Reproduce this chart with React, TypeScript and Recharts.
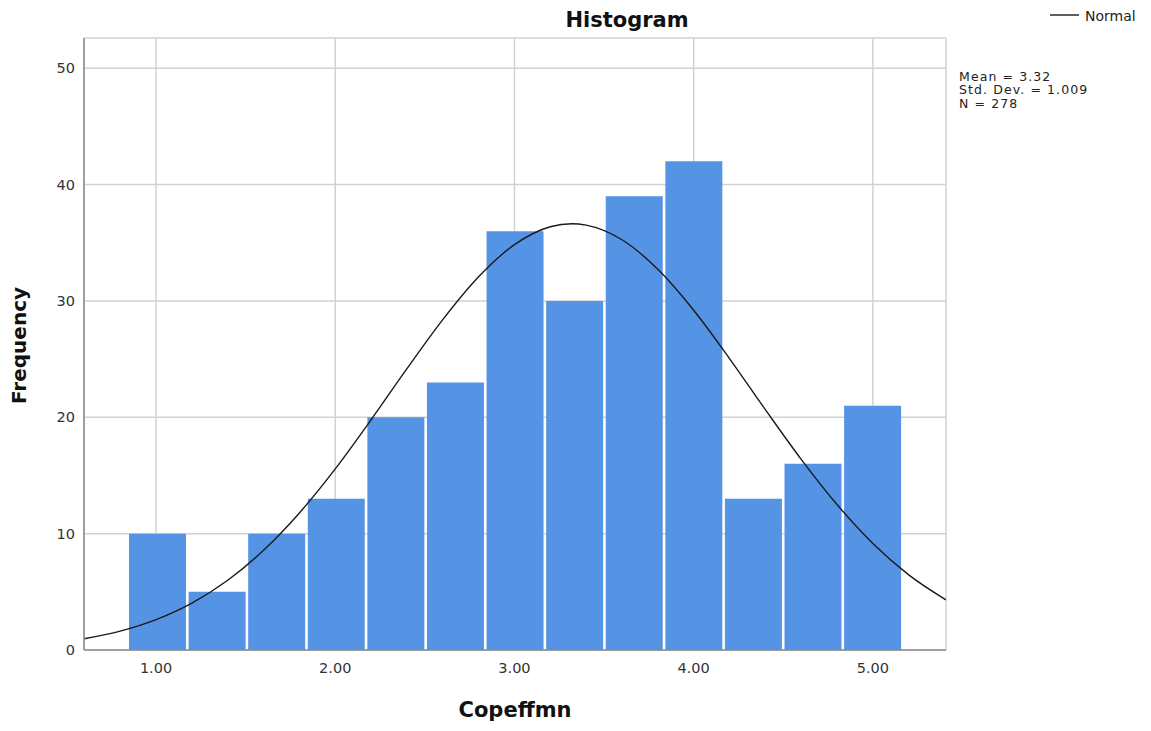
import React from "react";
import { ComposedChart, Bar, Line, XAxis, YAxis, CartesianGrid } from "recharts";

// Histogram bins (centres) and frequencies
const binCenters = [1.0, 1.3333, 1.6667, 2.0, 2.3333, 2.6667, 3.0, 3.3333, 3.6667, 4.0, 4.3333, 4.6667, 5.0];
const frequencies = [10, 5, 10, 13, 20, 23, 36, 30, 39, 42, 13, 16, 21];

// Normal curve points (as plotted)
const curveX = [0.598, 0.8, 1.0, 1.2, 1.4, 1.6, 1.8, 2.0, 2.2, 2.4, 2.6, 2.8, 3.0, 3.2, 3.32, 3.4, 3.6, 3.8, 4.0, 4.2, 4.4, 4.6, 4.8, 5.0, 5.2, 5.408];
const curveY = [0.96, 1.62, 2.61, 4.03, 5.99, 8.57, 11.78, 15.57, 19.79, 24.18, 28.4, 32.08, 34.84, 36.38, 36.64, 36.52, 35.26, 32.72, 29.2, 25.05, 20.66, 16.39, 12.5, 9.16, 6.46, 4.31];

const xTicks = [1, 2, 3, 4, 5];
const yTicks = [0, 10, 20, 30, 40, 50];
const statsLines = ["Mean = 3.32", "Std. Dev. = 1.009", "N = 278"];

const barData = binCenters.map((x, i) => ({ x, count: frequencies[i] }));
const curveData = curveX.map((x, i) => ({ x, norm: curveY[i] }));

const W = 1143;
const H = 723;
const FONT = "'DejaVu Sans', sans-serif";

export default function App() {
  return (
    <div style={{ position: "relative", width: W, height: H }}>
      <ComposedChart
        width={W}
        height={H}
        data={barData}
        margin={{ top: 30, right: 205, left: 16, bottom: 0 }}
        barCategoryGap={2}
      >
        <CartesianGrid stroke="#d2d2d2" strokeWidth={1.5} />
        <XAxis
          dataKey="x"
          type="number"
          domain={[0.598, 5.408]}
          ticks={xTicks}
          tickFormatter={(v: number) => v.toFixed(2)}
          tickLine={false}
          tickMargin={7}
          height={81}
          axisLine={{ stroke: "#8a8a8a", strokeWidth: 1.5 }}
          tick={{ fill: "#333", fontSize: 14.5, fontFamily: FONT }}
          allowDataOverflow
        />
        <XAxis
          xAxisId="bins"
          dataKey="x"
          type="category"
          hide
          padding={{ left: 44, right: 43.3 }}
        />
        <YAxis
          type="number"
          domain={[0, 52.6]}
          ticks={yTicks}
          tickLine={false}
          tickMargin={3}
          width={60}
          axisLine={{ stroke: "#8a8a8a", strokeWidth: 1.5 }}
          tick={{ fill: "#333", fontSize: 14.5, fontFamily: FONT }}
          allowDataOverflow
        />
        <Bar xAxisId="bins" dataKey="count" fill="#5594E4" barSize={57} isAnimationActive={false} />
        <Line
          data={curveData}
          dataKey="norm"
          type="monotone"
          stroke="#1a1a1a"
          strokeWidth={1.4}
          dot={false}
          activeDot={false}
          isAnimationActive={false}
        />
      </ComposedChart>
      <svg
        width={W}
        height={H}
        style={{ position: "absolute", left: 0, top: 0, pointerEvents: "none" }}
      >
        <text x={619} y={19} textAnchor="middle" fontFamily={FONT} fontWeight="bold" fontSize={21} fill="#111">
          Histogram
        </text>
        <text x={507} y={709} textAnchor="middle" fontFamily={FONT} fontWeight="bold" fontSize={21} fill="#111">
          Copeffmn
        </text>
        <text
          x={18}
          y={337.5}
          textAnchor="middle"
          transform="rotate(-90 18 337.5)"
          fontFamily={FONT}
          fontWeight="bold"
          fontSize={20}
          fill="#111"
        >
          Frequency
        </text>
        <line x1={1042} y1={7} x2={1071} y2={7} stroke="#1a1a1a" strokeWidth={1.4} />
        <text x={1077} y={12.5} fontFamily={FONT} fontSize={14} fill="#222">
          Normal
        </text>
        {statsLines.map((s, i) => (
          <text key={s} x={951} y={72.5 + i * 13.5} fontFamily={FONT} fontSize={12.5} letterSpacing={1.1} fill="#222">
            {s}
          </text>
        ))}
      </svg>
    </div>
  );
}
